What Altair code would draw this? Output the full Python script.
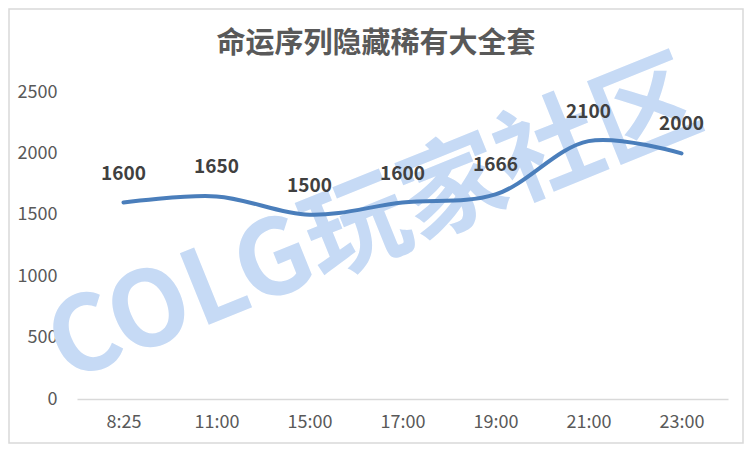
import altair as alt
import pandas as pd

times = ["8:25", "11:00", "15:00", "17:00", "19:00", "21:00", "23:00"]
values = [1600, 1650, 1500, 1600, 1666, 2100, 2000]
title_text = ["命运序列隐藏稀有大全套"]
watermark_text = ["COLG玩家社区"]

df = pd.DataFrame({"time": times, "value": values})

W, H = 651, 307
FONT = "Noto Sans CJK SC"

x_enc = alt.X("time:N", sort=times, title=None,
              scale=alt.Scale(type="point", padding=0.5),
              axis=alt.Axis(labelAngle=0, labelFontSize=18, labelColor="#595959", labelFont=FONT,
                            ticks=False, domainColor="#d9d9d9", domainWidth=1.5,
                            labelPadding=14, grid=False))
y_enc = alt.Y("value:Q", title=None,
              scale=alt.Scale(domain=[0, 2500], nice=False),
              axis=alt.Axis(values=[0, 500, 1000, 1500, 2000, 2500], format="d", labelFontSize=18,
                            labelColor="#595959", labelFont=FONT, ticks=False, domain=False,
                            grid=False, labelPadding=20))

one = pd.DataFrame({"a": [0]})

border = alt.Chart(one).mark_rect(
    fillOpacity=0, stroke="#d9d9d9", strokeWidth=1.5
).encode(x=alt.value(-68), x2=alt.value(W + 15), y=alt.value(-83), y2=alt.value(H + 44))

wm = alt.Chart(pd.DataFrame({"t": watermark_text})).mark_text(
    font=FONT, fontSize=104, fontWeight="bold", color="#c6daf5", angle=338,
    align="center", baseline="middle"
).encode(text="t:N", x=alt.value(298), y=alt.value(132))

title = alt.Chart(pd.DataFrame({"t": title_text})).mark_text(
    font=FONT, fontSize=29, fontWeight="bold", color="#595959",
    align="center", baseline="middle"
).encode(text="t:N", x=alt.value(299), y=alt.value(-48))

line = alt.Chart(df).mark_line(
    interpolate="catmull-rom", color="#4a7ebb", strokeWidth=4, strokeCap="round"
).encode(x=x_enc, y=y_enc)

labels = alt.Chart(df).mark_text(
    font=FONT, fontSize=19, fontWeight="bold", color="#404040", dy=-29, baseline="middle"
).encode(x=alt.X("time:N", sort=times), y="value:Q", text="value:Q")

chart = alt.layer(border, wm, title, line, labels).properties(
    width=W, height=H,
    background="white",
    autosize=alt.AutoSizeParams(type="none"),
    padding={"left": 69, "top": 84, "right": 16, "bottom": 45},
).configure_view(strokeWidth=0)

chart.save("out.html", embed_options={"renderer": "svg", "actions": False})
